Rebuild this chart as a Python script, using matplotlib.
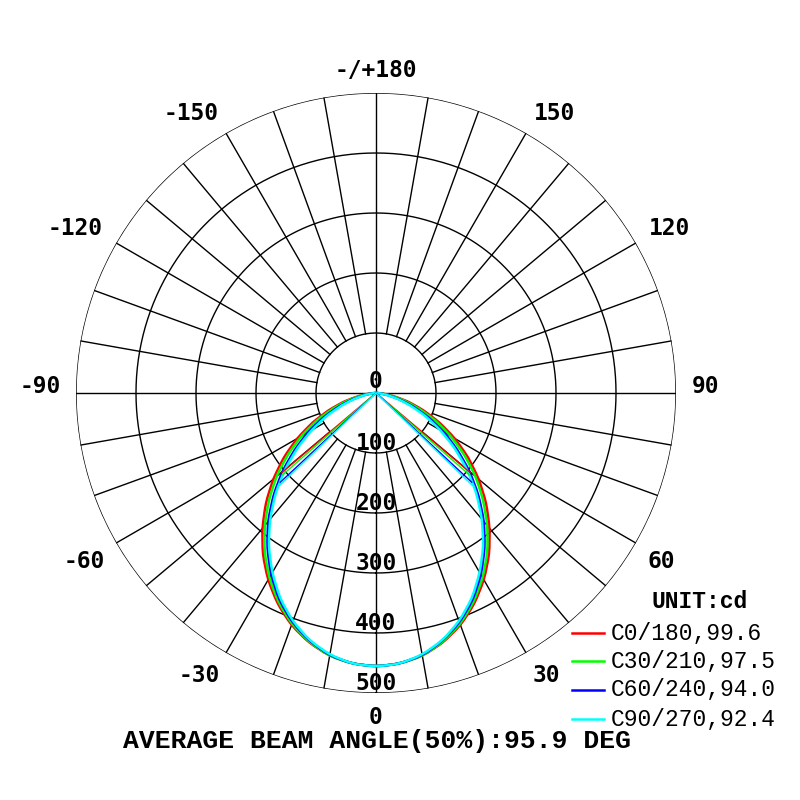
import numpy as np
import matplotlib
matplotlib.use("Agg")
import matplotlib.pyplot as plt
from matplotlib.path import Path
from matplotlib.patches import PathPatch

# gamma angles 0..90 deg (5 deg steps), intensity in cd, symmetric about 0
gamma = [0, 5, 10, 15, 20, 25, 30, 35, 40, 45, 50, 55, 60, 65, 70, 75, 80, 85, 90]
c0_180 = [455, 452, 444, 430, 411, 387, 359, 328, 294, 259, 223, 187, 151, 116, 83, 54, 28, 10, 0]
c30_210 = [455, 452, 444, 429, 409, 384, 355, 323, 288, 252, 216, 179, 143, 109, 76, 48, 25, 8, 0]
c60_240 = [455, 452, 443, 427, 406, 380, 349, 315, 279, 241, 203, 165, 130, 96, 65, 39, 19, 6, 0]
c90_270 = [455, 452, 442, 426, 404, 377, 345, 311, 274, 236, 197, 159, 123, 90, 60, 36, 17, 5, 0]

series_names = ["C0/180,99.6", "C30/210,97.5", "C60/240,94.0", "C90/270,92.4"]
series_vals = [c0_180, c30_210, c60_240, c90_270]
series_colors = ["#ff0000", "#00ff00", "#0000ff", "#00ffff"]

# half beam angle (deg) and the cd value where the beam line ends
half_angle = [49.8, 48.75, 47.0, 46.2]
half_cd = [205, 207, 218, 222]

ring_values = [100, 200, 300, 400, 500]
ring_labels = ["100", "200", "300", "400", "500"]
angle_ticks = [0, 30, 60, 90, 120, 150, 180, -150, -120, -90, -60, -30]
angle_labels = ["0", "30", "60", "90", "120", "150", "-/+180",
                "-150", "-120", "-90", "-60", "-30"]


def smooth_path(theta, r):
    # Catmull-Rom through the data points, as cubic bezier segments
    p = np.column_stack([theta, r])
    n = len(p)
    verts = [p[0]]
    for i in range(n - 1):
        a = p[max(i - 1, 0)]
        d = p[min(i + 2, n - 1)]
        verts += [p[i] + (p[i + 1] - a) / 6, p[i + 1] - (d - p[i]) / 6, p[i + 1]]
    codes = [Path.MOVETO] + [Path.CURVE4] * (3 * (n - 1))
    return Path(verts, codes)


fig = plt.figure(figsize=(8, 8), dpi=100)
ax = fig.add_axes([0.095, 0.13375, 0.75, 0.75], projection="polar")
ax.set_theta_zero_location("S")
ax.set_theta_direction(1)
ax.set_ylim(0, 500)
ax.set_xticks([])
ax.set_yticks([])
ax.grid(False)
ax.spines["polar"].set_visible(False)

# grid: rings and spokes
full = np.linspace(0, 2 * np.pi, 721)
for rv in ring_values:
    ax.plot(full, np.full_like(full, rv), color="black", lw=1.0, zorder=1)
for a in range(0, 360, 10):
    r0 = 0 if a % 90 == 0 else ring_values[0]
    ax.plot([np.deg2rad(a)] * 2, [r0, 500], color="black", lw=1.0, zorder=1)

# curves
for vals, col in zip(series_vals, series_colors):
    g = [-x for x in gamma[::-1]] + gamma[1:]
    v = vals[::-1] + vals[1:]
    ax.add_patch(PathPatch(smooth_path(np.deg2rad(g), v), fill=False,
                           edgecolor=col, lw=1.8, zorder=3))

# beam angle lines
for ha, hc, col in zip(half_angle, half_cd, series_colors):
    for s in (-1, 1):
        t = np.deg2rad(s * ha)
        ax.plot([t, t], [0, hc], color=col, lw=1.0, zorder=3)

lab_font = dict(family="DejaVu Sans Mono", fontsize=16.5, fontweight="bold")

# angle labels, anchored just outside the outer ring
for a, lab in zip(angle_ticks, angle_labels):
    if a in (0, 180):
        h = "center"
    elif a > 0:
        h = "left"
    else:
        h = "right"
    if abs(a) < 90:
        v, rr = "top", 522
    else:
        v, rr = "baseline", 526
    ax.text(np.deg2rad(a), rr, lab, ha=h, va=v, clip_on=False, **lab_font)

# radial labels along the 0 deg axis
ax.annotate("0", xy=(0, 0), xytext=(0, 8.5), textcoords="offset points",
            ha="center", va="center", zorder=4, **lab_font)
for rv, lab in zip(ring_values, ring_labels):
    ax.annotate(lab, xy=(0, rv), xytext=(0, 7), textcoords="offset points",
                ha="center", va="center", zorder=4, **lab_font)

# legend
fig.text(0.875, 1 - 601 / 800, "UNIT:cd", ha="center", va="center",
         family="Liberation Mono", fontsize=16.5, fontweight="bold")
leg_y = [633, 661, 690, 719]
for name, col, yy in zip(series_names, series_colors, leg_y):
    fy = 1 - yy / 800
    fig.add_artist(plt.Line2D([572 / 800, 604 / 800], [fy, fy], color=col, lw=1.8))
    fig.text(611 / 800, fy, name, ha="left", va="center",
             family="Liberation Mono", fontsize=16.5)

fig.text(377 / 800, 1 - 741 / 800, "AVERAGE BEAM ANGLE(50%):95.9 DEG",
         ha="center", va="center", family="Liberation Mono",
         fontsize=19, fontweight="bold")

fig.savefig("out.png", dpi=100, facecolor="white")
